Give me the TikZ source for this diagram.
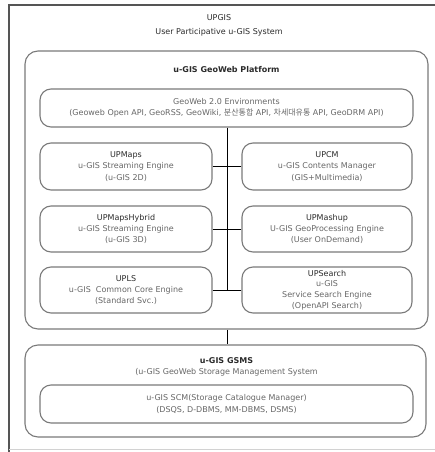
\documentclass[tikz,border=0pt]{standalone}
\usepackage{fontspec}
\setmainfont{DejaVu Sans}
\newfontfamily\krfont{Noto Sans CJK KR}
\definecolor{boxline}{HTML}{7A7A7A}
\definecolor{frameline}{HTML}{555555}
\definecolor{txtgray}{HTML}{666666}
\definecolor{txtdark}{HTML}{2A2A2A}
\begin{document}
\begin{tikzpicture}[x=1pt,y=-1pt,
  box/.style={draw=boxline, line width=1.1pt, rounded corners=11pt, inner sep=0pt,
    align=center, text=txtgray, font=\fontsize{8}{11.2}\selectfont},
  bigbox/.style={draw=boxline, line width=1.1pt, rounded corners=13pt, inner sep=0pt},
  conn/.style={draw=black, line width=1pt},
  lbl/.style={align=center, inner sep=0pt, font=\fontsize{8}{11.2}\selectfont}
]
\useasboundingbox (0,0) rectangle (435,452);
% outer frame
\draw[frameline, line width=1.1pt] (435,5) -- (9,5) -- (9,452);
\draw[gray!35, line width=0.8pt] (9,449.5) -- (435,449.5);
% title
\node[lbl, text=txtdark, font=\fontsize{8}{14}\selectfont] (title) at (219,25) {UPGIS\\User Participative u-GIS System};
% platform container
\node[bigbox, minimum width=403pt, minimum height=278pt] (platform) at (226.5,190) {};
\node[lbl, text=txtdark, font=\fontsize{8}{11.2}\selectfont\bfseries] (ptitle) at (226.5,70) {u-GIS GeoWeb Platform};
% GeoWeb 2.0 env
\node[box, minimum width=373pt, minimum height=38pt] (geo) at (226.5,108)
  {GeoWeb 2.0 Environments\\(Geoweb Open API, GeoRSS, GeoWiki, {\krfont 분산통합} API, {\krfont 차세대유통} API, GeoDRM API)};
% left column
\node[box, minimum width=172pt, minimum height=47pt] (upmaps) at (126,166.5)
  {{\color{txtdark}UPMaps}\\u-GIS Streaming Engine\\(u-GIS 2D)};
\node[box, minimum width=172pt, minimum height=46pt] (hybrid) at (126,229)
  {{\color{txtdark}UPMapsHybrid}\\u-GIS Streaming Engine\\(u-GIS 3D)};
\node[box, minimum width=172pt, minimum height=46pt] (upls) at (126,290)
  {{\color{txtdark}UPLS}\\u-GIS\ \ Common Core Engine\\(Standard Svc.)};
% right column
\node[box, minimum width=170pt, minimum height=47pt] (upcm) at (327,166.5)
  {{\color{txtdark}UPCM}\\u-GIS Contents Manager\\(GIS+Multimedia)};
\node[box, minimum width=170pt, minimum height=46pt] (mashup) at (327,229)
  {{\color{txtdark}UPMashup}\\U-GIS GeoProcessing Engine\\(User OnDemand)};
\node[box, minimum width=170pt, minimum height=46pt, font=\fontsize{8}{10.6}\selectfont] (search) at (327,290)
  {{\color{txtdark}UPSearch}\\u-GIS\\Service Search Engine\\(OpenAPI Search)};
% spine
\coordinate (spine) at (227,127);
\draw[conn] (geo.south -| spine) -- (upls.east -| spine);
\draw[conn] (upmaps.east) -- (upmaps.east -| spine);
\draw[conn] (hybrid.east) -- (hybrid.east -| spine);
\draw[conn] (upls.east) -- (upls.east -| spine);
\draw[conn] (upcm.west) -- (upcm.west -| spine);
\draw[conn] (mashup.west) -- (mashup.west -| spine);
\draw[conn] (search.west) -- (search.west -| spine);
% GSMS
\node[bigbox, minimum width=401pt, minimum height=92pt] (gsms) at (225.5,391) {};
\node[lbl, text=txtgray] (gtitle) at (226.5,366.5)
  {{\color{txtdark}\bfseries u-GIS GSMS}\\(u-GIS GeoWeb Storage Management System};
\node[box, minimum width=373pt, minimum height=38pt] (scm) at (226.5,404)
  {u-GIS SCM(Storage Catalogue Manager)\\(DSQS, D-DBMS, MM-DBMS, DSMS)};
\draw[conn] (platform.south -| spine) -- (gsms.north -| spine);
\end{tikzpicture}
\end{document}
